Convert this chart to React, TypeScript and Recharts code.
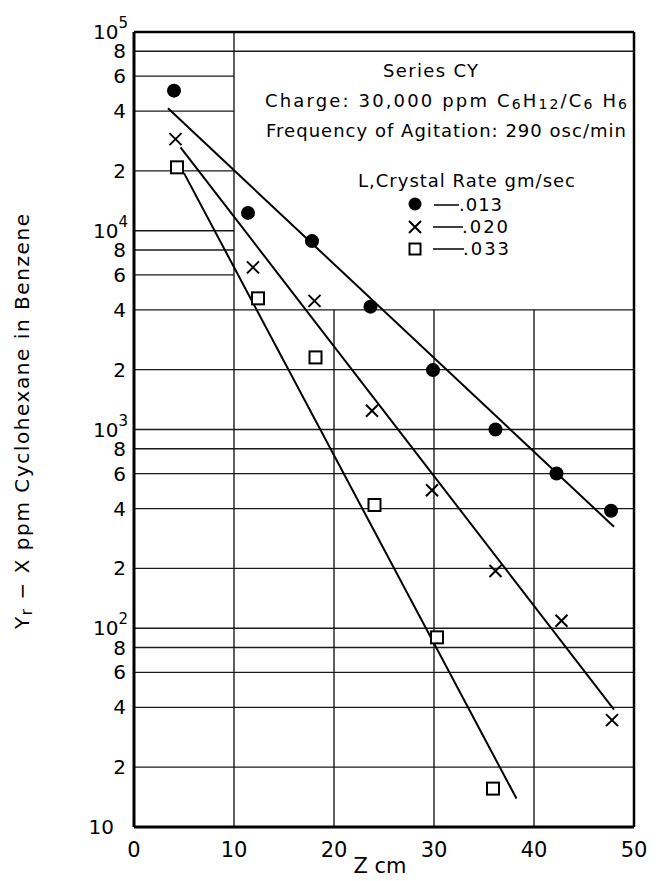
import React from "react";
import { ComposedChart, Scatter, XAxis, YAxis, ReferenceLine } from "recharts";

// measured points, Z (cm) vs Yr - X (ppm)
const zRate013 = [4.0, 11.4, 17.8, 23.65, 29.9, 36.15, 42.25, 47.7];
const yRate013 = [50700, 12300, 8870, 4150, 1990, 1000, 601, 390];
const zRate020 = [4.15, 11.9, 18.05, 23.8, 29.8, 36.15, 42.75, 47.8];
const yRate020 = [28900, 6540, 4440, 1242, 495, 194, 109, 34.5];
const zRate033 = [4.3, 12.4, 18.15, 24.05, 30.3, 35.9];
const yRate033 = [20850, 4570, 2305, 417, 90, 15.6];

// fitted straight lines (end points)
const zFit013 = [3.4, 48];
const yFit013 = [41300, 324];
const zFit020 = [4.65, 48];
const yFit020 = [26300, 39];
const zFit033 = [5.0, 38.25];
const yFit033 = [19500, 13.9];

const xTicks = [0, 10, 20, 30, 40, 50];
const yTicks = [
  10, 20, 40, 60, 80, 100, 200, 400, 600, 800, 1000, 2000, 4000, 6000, 8000,
  10000, 20000, 40000, 60000, 80000, 100000,
];
// the legend block leaves the grid blank for Z > 10 between these levels
const blankLow = 4000;
const blankHigh = 80000;

const FONT = "'DejaVu Sans', sans-serif";

const toPoints = (zs: number[], ys: number[]) =>
  zs.map((z, i) => ({ z, y: ys[i] }));

const FilledDot = (props: any) => (
  <circle cx={props.cx} cy={props.cy} r={7} fill="#000" />
);

const Cross = (props: any) => {
  const { cx, cy } = props;
  const s = 6;
  return (
    <path
      d={`M${cx - s},${cy - s}L${cx + s},${cy + s}M${cx - s},${cy + s}L${cx + s},${cy - s}`}
      stroke="#000"
      strokeWidth={2}
      fill="none"
    />
  );
};

const OpenSquare = (props: any) => (
  <rect
    x={props.cx - 6}
    y={props.cy - 6}
    width={12}
    height={12}
    fill="#fff"
    stroke="#000"
    strokeWidth={2}
  />
);

const NoMark = () => <g />;

function YTick({ x, y, payload }: any) {
  const v = payload.value as number;
  const exp = Math.floor(Math.log10(v) + 1e-9);
  const mant = Math.round(v / Math.pow(10, exp));
  const style = { fontFamily: FONT, fontSize: 20, fill: "#000" };
  if (mant === 1 && exp === 1) {
    return (
      <text x={x - 18} y={y} textAnchor="end" dominantBaseline="central" {...style}>
        10
      </text>
    );
  }
  if (mant === 1) {
    return (
      <text x={x - 4} y={y} textAnchor="end" dominantBaseline="central" {...style}>
        10
        <tspan dy={-9} fontSize={15}>
          {exp}
        </tspan>
      </text>
    );
  }
  return (
    <text x={x - 6} y={y} textAnchor="end" dominantBaseline="central" {...style}>
      {mant}
    </text>
  );
}

function XTick({ x, y, payload }: any) {
  return (
    <text
      x={x}
      y={y + 21}
      textAnchor="middle"
      dominantBaseline="central"
      fontFamily={FONT}
      fontSize={21}
      fill="#000"
    >
      {payload.value}
    </text>
  );
}

const grid = { stroke: "#1a1a1a", strokeWidth: 1.4 };

export default function App() {
  const legendText = { fontFamily: FONT, fontSize: 18, fill: "#000" };
  return (
    <div style={{ margin: -8, width: 656, height: 881, position: "relative", background: "#fff" }}>
      <ComposedChart
        width={656}
        height={881}
        margin={{ top: 32, right: 22, bottom: 0, left: 0 }}
      >
        <XAxis
          type="number"
          dataKey="z"
          domain={[0, 50]}
          ticks={xTicks}
          allowDataOverflow
          tickLine={false}
          tickSize={0}
          height={54}
          axisLine={{ stroke: "#000", strokeWidth: 3 }}
          tick={<XTick />}
        />
        <YAxis
          type="number"
          dataKey="y"
          scale="log"
          domain={[10, 100000]}
          ticks={yTicks}
          allowDataOverflow
          tickLine={false}
          tickSize={0}
          width={134}
          axisLine={{ stroke: "#000", strokeWidth: 3 }}
          tick={<YTick />}
          interval={0}
        />

        {yTicks
          .filter((v) => v > 10 && v < 100000)
          .map((v) =>
            v > blankLow && v < blankHigh ? (
              <ReferenceLine
                key={`h${v}`}
                segment={[
                  { x: 0, y: v },
                  { x: 10, y: v },
                ]}
                {...grid}
              />
            ) : (
              <ReferenceLine key={`h${v}`} y={v} {...grid} />
            )
          )}
        {xTicks
          .filter((v) => v > 0 && v < 50)
          .map((v) =>
            v === 10 ? (
              <ReferenceLine key={`v${v}`} x={v} {...grid} />
            ) : (
              <ReferenceLine
                key={`v${v}`}
                segment={[
                  { x: v, y: 10 },
                  { x: v, y: blankLow },
                ]}
                {...grid}
              />
            )
          )}
        <ReferenceLine y={100000} stroke="#000" strokeWidth={2.5} />
        <ReferenceLine x={50} stroke="#000" strokeWidth={2.5} />

        <Scatter
          data={toPoints(zFit013, yFit013)}
          line={{ stroke: "#000", strokeWidth: 2 }}
          shape={<NoMark />}
          isAnimationActive={false}
        />
        <Scatter
          data={toPoints(zFit020, yFit020)}
          line={{ stroke: "#000", strokeWidth: 2 }}
          shape={<NoMark />}
          isAnimationActive={false}
        />
        <Scatter
          data={toPoints(zFit033, yFit033)}
          line={{ stroke: "#000", strokeWidth: 2 }}
          shape={<NoMark />}
          isAnimationActive={false}
        />

        <Scatter data={toPoints(zRate013, yRate013)} shape={<FilledDot />} isAnimationActive={false} />
        <Scatter data={toPoints(zRate020, yRate020)} shape={<Cross />} isAnimationActive={false} />
        <Scatter data={toPoints(zRate033, yRate033)} shape={<OpenSquare />} isAnimationActive={false} />
      </ComposedChart>

      <svg
        width={656}
        height={881}
        style={{ position: "absolute", left: 0, top: 0, pointerEvents: "none" }}
      >
        <text x={383} y={70} textLength={95} lengthAdjust="spacing" dominantBaseline="central" {...legendText}>
          Series CY
        </text>
        <text x={265} y={100} textLength={362} lengthAdjust="spacing" dominantBaseline="central" {...legendText}>
          Charge: 30,000 ppm  C
          <tspan dy={4} fontSize={14}>6</tspan>
          <tspan dy={-4}>H</tspan>
          <tspan dy={4} fontSize={14}>12</tspan>
          <tspan dy={-4}>/C</tspan>
          <tspan dy={4} fontSize={14}>6</tspan>
          <tspan dy={-4}> H</tspan>
          <tspan dy={4} fontSize={14}>6</tspan>
        </text>
        <text x={266} y={130} textLength={360} lengthAdjust="spacing" dominantBaseline="central" {...legendText}>
          Frequency of Agitation: 290 osc/min
        </text>
        <text x={358} y={180} textLength={217} lengthAdjust="spacing" dominantBaseline="central" {...legendText}>
          L,Crystal Rate gm/sec
        </text>

        <circle cx={415} cy={204} r={6.5} fill="#000" />
        <line x1={434} x2={459} y1={205} y2={205} stroke="#000" strokeWidth={1.5} />
        <text x={459} y={204} textLength={43} lengthAdjust="spacing" dominantBaseline="central" {...legendText}>
          .013
        </text>

        <path d="M409,221L421,233M409,233L421,221" stroke="#000" strokeWidth={2} />
        <line x1={433} x2={463} y1={227} y2={227} stroke="#000" strokeWidth={1.5} />
        <text x={462} y={226} textLength={46} lengthAdjust="spacing" dominantBaseline="central" {...legendText}>
          .020
        </text>

        <rect x={409.5} y={243.5} width={11} height={11} fill="#fff" stroke="#000" strokeWidth={2} />
        <line x1={433} x2={464} y1={249} y2={249} stroke="#000" strokeWidth={1.5} />
        <text x={463} y={248} textLength={46} lengthAdjust="spacing" dominantBaseline="central" {...legendText}>
          .033
        </text>

        <text
          transform="translate(22,422) rotate(-90)"
          x={-207}
          textLength={415}
          lengthAdjust="spacing"
          dominantBaseline="central"
          fontFamily={FONT}
          fontSize={20}
          fill="#000"
        >
          Y<tspan dy={5} fontSize={15}>r</tspan>
          <tspan dy={-5}> − X   ppm Cyclohexane in  Benzene</tspan>
        </text>
        <text x={380} y={866} textAnchor="middle" dominantBaseline="central" fontFamily={FONT} fontSize={21} fill="#000">
          Z cm
        </text>
      </svg>
    </div>
  );
}
